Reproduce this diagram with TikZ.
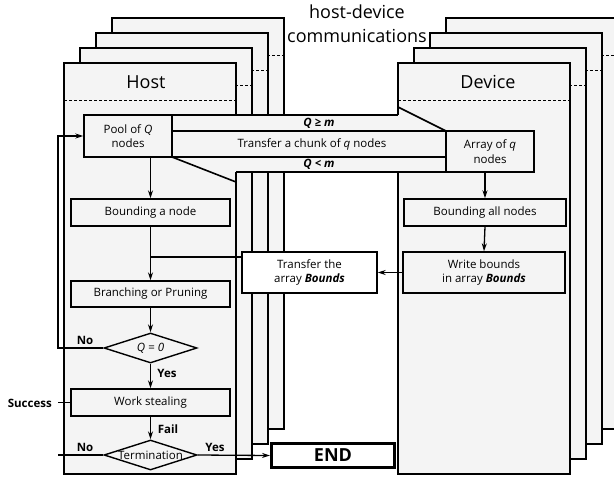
\documentclass[tikz,border=0pt]{standalone}
\usepackage{fontspec}
\setmainfont{Open Sans}
\usetikzlibrary{arrows.meta,shapes.geometric,calc}
\definecolor{bgray}{HTML}{F4F4F4}
\begin{document}
\begin{tikzpicture}[x=1pt,y=-1pt,
 frame/.style={draw, fill=bgray, line width=1.8pt},
 sep/.style={line width=0.9pt, dash pattern=on 3pt off 2pt},
 box/.style={draw, fill=bgray, line width=1.4pt, inner sep=0pt, align=center, font=\fontsize{11.5}{14.5}\selectfont},
 dia/.style={diamond, draw, fill=bgray, line width=1.4pt, inner sep=0pt, minimum width=93pt, minimum height=30pt},
 arr/.style={line width=1.3pt, -{Stealth[length=8pt,width=5pt]}},
 ln/.style={line width=1.3pt},
 chan/.style={line width=1.6pt},
 lab/.style={font=\fontsize{11.5}{13}\selectfont\bfseries, inner sep=0pt},
 ttl/.style={font=\fontsize{18}{20}\selectfont, inner sep=0pt}
]
\useasboundingbox (0,0) rectangle (614,477);
% host stack
\draw[frame] (112,18) rectangle (284,429);
\draw[sep] (112,55) -- (284,55);
\draw[frame] (96,33) rectangle (268,444);
\draw[sep] (96,70) -- (268,70);
\draw[frame] (80,48) rectangle (252,459);
\draw[sep] (80,85) -- (252,85);
\draw[frame] (64,63) rectangle (236,474);
\draw[sep] (64,100) -- (236,100);
% device stack
\draw[frame] (446,18) rectangle (618,429);
\draw[sep] (446,55) -- (618,55);
\draw[frame] (430,33) rectangle (602,444);
\draw[sep] (430,70) -- (602,70);
\draw[frame] (414,48) rectangle (586,459);
\draw[sep] (414,85) -- (586,85);
\draw[frame] (398,63) rectangle (570,474);
\draw[sep] (398,100) -- (570,100);
% titles
\node[ttl] (hd1) at (357,12) {host-device};
\node[ttl] (hd2) at (357,36) {communications};
\node[ttl] (host) at (146,82) {Host};
\node[ttl] (dev) at (488,82) {Device};
% channel
\fill[bgray] (172,115) rectangle (446,172);
\draw[chan] (172,115) -- (398,115);
\draw[chan] (398,107) -- (446,131);
\draw[chan] (172,131) -- (446,131);
\draw[chan] (172,157) -- (446,157);
\draw[chan] (236,172) -- (446,172);
\draw[chan] (172,157) -- (236,182);
\node[lab, font=\fontsize{11.5}{13}\selectfont\bfseries\itshape] (qge) at (319,123.5) {Q ≥ m};
\node[inner sep=0pt, font=\fontsize{11.5}{14}\selectfont] (chunk) at (312,144.5) {Transfer a chunk of \textit{q} nodes};
\node[lab, font=\fontsize{11.5}{13}\selectfont\bfseries\itshape] (qlt) at (319,164.5) {Q < m};
% host nodes
\node[box, minimum width=88pt, minimum height=42pt] (pool) at (128,136) {Pool of \textit{Q}\\nodes};
\node[box, minimum width=159pt, minimum height=27pt] (bound) at (150.5,212.5) {Bounding a node};
\node[box, minimum width=159pt, minimum height=26pt] (branch) at (150.5,294) {Branching or Pruning};
\node[dia, label={[font=\fontsize{11.5}{13}\selectfont\itshape]center:Q = 0}] (q0) at (150.5,348) {};
\node[box, minimum width=159pt, minimum height=27pt] (steal) at (150.5,402.5) {Work stealing};
\node[dia, label={[font=\fontsize{11.5}{13}\selectfont]center:Termination}] (term) at (150.5,455) {};
\node[draw, fill=white, line width=3pt, minimum width=123pt, minimum height=24pt, inner sep=0pt, font=\fontsize{18}{20}\selectfont\bfseries] (end) at (333,455.5) {END};
\node[box, fill=white, minimum width=135pt, minimum height=41pt] (transfer) at (309.5,272.5) {Transfer the\\array \textbf{\textit{Bounds}}};
% device nodes
\node[box, minimum width=88pt, minimum height=41pt] (array) at (490,151.5) {Array of \textit{q}\\nodes};
\node[box, minimum width=162pt, minimum height=27pt] (boundall) at (485,212.5) {Bounding all nodes};
\node[box, minimum width=162pt, minimum height=41pt] (write) at (484,272.5) {Write bounds\\in array \textbf{\textit{Bounds}}};
% connectors
\coordinate (tj) at (150.5,257);
\coordinate (lp) at (58,0);
\draw[arr] (bound.north |- pool.south) -- (bound.north);
\draw[arr] (bound.south) -- (branch.north);
\draw[ln] (transfer.west |- tj) -- (tj);
\draw[arr] (write.west) -- (transfer.east);
\draw[arr] (boundall.north |- array.south) -- (boundall.north);
\draw[arr] (boundall.south) -- (write.north);
\draw[arr] (branch.south) -- (q0.north);
\draw[arr] (q0.south) -- (steal.north);
\draw[arr] (steal.south) -- (term.north);
\draw[arr] (q0.west) -- (lp |- q0.west) -- (lp |- pool.west) -- (pool.west);
\draw[ln] (steal.west) -- (lp |- steal.west);
\draw[ln] (term.west) -- (lp |- term.west);
\draw[arr] (term.east) -- (end.west);
% labels
\node[lab] (no1) at (85,340) {No};
\node[lab] (yes1) at (167,373) {Yes};
\node[lab, anchor=east] (succ) at (52,403) {Success};
\node[lab] (fail) at (168,429) {Fail};
\node[lab] (no2) at (85,447) {No};
\node[lab] (yes2) at (215,447) {Yes};
\end{tikzpicture}
\end{document}
